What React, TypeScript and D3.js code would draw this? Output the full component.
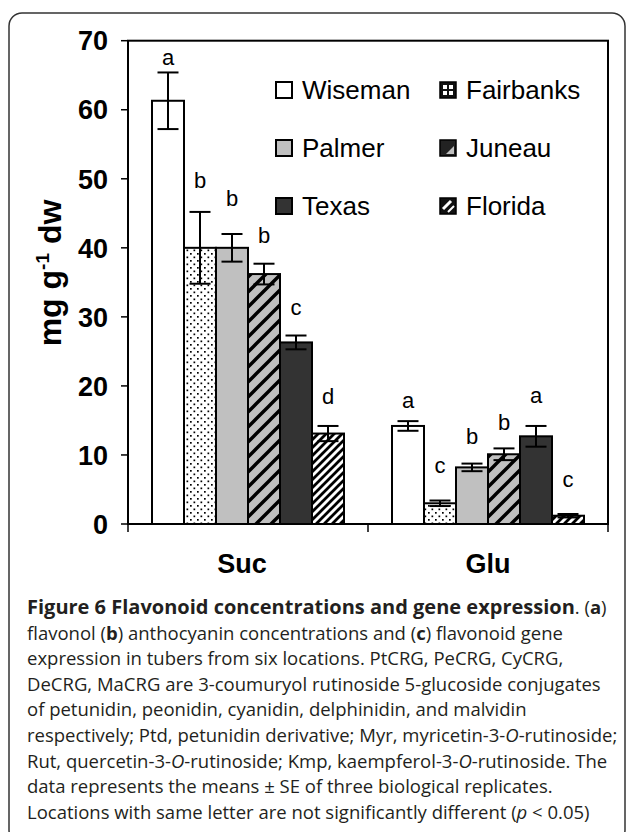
import React from 'react';
import * as d3 from 'd3';

const groups = ['Suc', 'Glu'];
const groupLabelShift = [-6, 0];
const locations = ['Wiseman', 'Fairbanks', 'Palmer', 'Juneau', 'Texas', 'Florida'];
const sucMeans = [61.3, 40.0, 40.0, 36.2, 26.3, 13.1];
const sucSE = [4.1, 5.2, 2.0, 1.5, 1.0, 1.1];
const gluMeans = [14.2, 3.0, 8.2, 10.1, 12.7, 1.2];
const gluSE = [0.7, 0.4, 0.55, 0.85, 1.5, 0.25];
const sucLetters = ['a', 'b', 'b', 'b', 'c', 'd'];
const gluLetters = ['a', 'c', 'b', 'b', 'a', 'c'];
const sucLetterPos = [66.5, 48.6, 46.1, 40.7, 30.3, 17.4];
const gluLetterPos = [16.8, 7.4, 11.6, 13.6, 17.5, 5.4];
const yTicks = [0, 10, 20, 30, 40, 50, 60, 70];

const fills: Record<string, string> = {
  Wiseman: '#ffffff',
  Fairbanks: 'url(#dots)',
  Palmer: '#c0c0c0',
  Juneau: 'url(#juneau)',
  Texas: '#333333',
  Florida: 'url(#florida)',
};

type Row = { group: string; loc: string; mean: number; se: number; letter: string; lpos: number };
const rows: Row[] = [];
groups.forEach((g, gi) => {
  const means = gi === 0 ? sucMeans : gluMeans;
  const ses = gi === 0 ? sucSE : gluSE;
  const lets = gi === 0 ? sucLetters : gluLetters;
  const lp = gi === 0 ? sucLetterPos : gluLetterPos;
  locations.forEach((loc, i) => rows.push({ group: g, loc, mean: means[i], se: ses[i], letter: lets[i], lpos: lp[i] }));
});

const captionFont = "'Open Sans', 'Noto Sans', sans-serif";
const chartFont = "'Liberation Sans', Arial, sans-serif";

export default function App() {
  const x0 = d3.scaleBand<string>().domain(groups).range([128, 608]).paddingInner(0).paddingOuter(0);
  const x1 = d3.scaleBand<string>().domain(locations).range([0, x0.bandwidth()]).paddingInner(0).paddingOuter(0.75);
  const y = d3.scaleLinear().domain([0, 70]).range([524, 40.7]);
  const capW = 21;

  const legendCols = [276, 440];
  const legendRows = [90, 148, 206];
  const sw = 16;

  const capLines: React.ReactNode[] = [
    <>
      <tspan fontWeight="bold" fontSize={20}>Figure 6 Flavonoid concentrations and gene expression</tspan>. (<tspan fontWeight="bold">a</tspan>)
    </>,
    <>
      flavonol (<tspan fontWeight="bold">b</tspan>) anthocyanin concentrations and (<tspan fontWeight="bold">c</tspan>) flavonoid gene
    </>,
    <>expression in tubers from six locations. PtCRG, PeCRG, CyCRG,</>,
    <>DeCRG, MaCRG are 3-coumuryol rutinoside 5-glucoside conjugates</>,
    <>of petunidin, peonidin, cyanidin, delphinidin, and malvidin</>,
    <>
      respectively; Ptd, petunidin derivative; Myr, myricetin-3-<tspan fontStyle="italic">O</tspan>-rutinoside;
    </>,
    <>
      Rut, quercetin-3-<tspan fontStyle="italic">O</tspan>-rutinoside; Kmp, kaempferol-3-<tspan fontStyle="italic">O</tspan>-rutinoside. The
    </>,
    <>data represents the means ± SE of three biological replicates.</>,
    <>
      Locations with same letter are not significantly different (<tspan fontStyle="italic">p</tspan> &lt; 0.05)
    </>,
  ];

  return (
    <svg width={629} height={832} style={{ position: 'absolute', left: 0, top: 0, background: '#fff' }}>
      <defs>
        <pattern id="dots" width={7} height={7} patternUnits="userSpaceOnUse">
          <rect width={7} height={7} fill="#fff" />
          <rect x={1} y={1} width={1.7} height={1.7} fill="#000" />
          <rect x={4.5} y={4.5} width={1.7} height={1.7} fill="#000" />
        </pattern>
        <pattern id="juneau" width={15} height={15} patternUnits="userSpaceOnUse">
          <rect width={15} height={15} fill="#c0c0c0" />
          <path d="M-4,4 L4,-4 M0,15 L15,0 M11,19 L19,11" stroke="#000" strokeWidth={3.4} />
        </pattern>
        <pattern id="florida" width={8} height={8} patternUnits="userSpaceOnUse">
          <rect width={8} height={8} fill="#fff" />
          <path d="M-2,2 L2,-2 M0,8 L8,0 M6,10 L10,6" stroke="#000" strokeWidth={2.8} />
        </pattern>
      </defs>

      {/* frame */}
      <rect x={9} y={13} width={616} height={830} rx={13} fill="none" stroke="#333" strokeWidth={1.5} />

      {/* bars */}
      {rows.map((r, i) => {
        const bx = (x0(r.group) as number) + (x1(r.loc) as number);
        const bw = x1.bandwidth();
        const cx = bx + bw / 2;
        return (
          <g key={i}>
            <rect x={bx} y={y(r.mean)} width={bw} height={y(0) - y(r.mean)} fill={fills[r.loc]} stroke="#000" strokeWidth={2} />
            <line x1={cx} x2={cx} y1={y(r.mean + r.se)} y2={y(r.mean - r.se)} stroke="#000" strokeWidth={2} />
            <line x1={cx - capW / 2} x2={cx + capW / 2} y1={y(r.mean + r.se)} y2={y(r.mean + r.se)} stroke="#000" strokeWidth={2} />
            <line x1={cx - capW / 2} x2={cx + capW / 2} y1={y(r.mean - r.se)} y2={y(r.mean - r.se)} stroke="#000" strokeWidth={2} />
            <text x={cx} y={y(r.lpos)} textAnchor="middle" fontFamily={chartFont} fontSize={22} fill="#000">
              {r.letter}
            </text>
          </g>
        );
      })}

      {/* plot box */}
      <rect x={128} y={y(70)} width={480} height={y(0) - y(70)} fill="none" stroke="#000" strokeWidth={2} />

      {/* y ticks */}
      {yTicks.map((t) => (
        <g key={t}>
          <line x1={121} x2={128} y1={y(t)} y2={y(t)} stroke="#000" strokeWidth={1.5} />
          <text x={108} y={y(t)} dy="0.36em" textAnchor="end" fontFamily={chartFont} fontWeight="bold" fontSize={27} fill="#000">
            {t}
          </text>
        </g>
      ))}

      {/* x ticks */}
      {[128, 368, 608].map((xx) => (
        <line key={xx} x1={xx} x2={xx} y1={524} y2={532} stroke="#000" strokeWidth={1.5} />
      ))}
      {groups.map((g, gi) => (
        <text key={g} x={(x0(g) as number) + x0.bandwidth() / 2 + groupLabelShift[gi]} y={573} textAnchor="middle" fontFamily={chartFont} fontWeight="bold" fontSize={27} fill="#000">
          {g}
        </text>
      ))}

      {/* y label */}
      <text transform="translate(61,273) rotate(-90)" textAnchor="middle" fontFamily={chartFont} fontWeight="bold" fontSize={32} fill="#000">
        mg g<tspan dy={-12} fontSize={19}>-1</tspan>
        <tspan dy={12}> dw</tspan>
      </text>

      {/* legend */}
      {locations.map((loc, i) => {
        const lx = legendCols[i % 2];
        const ly = legendRows[Math.floor(i / 2)];
        const sx = lx;
        const sy = ly - sw / 2;
        let swatch: React.ReactNode;
        if (loc === 'Fairbanks') {
          swatch = (
            <g>
              <rect x={sx} y={sy} width={sw} height={sw} fill="#111" stroke="#000" strokeWidth={1.5} />
              <rect x={sx + 3} y={sy + 3} width={4} height={4} fill="#fff" />
              <rect x={sx + 9} y={sy + 3} width={4} height={4} fill="#fff" />
              <rect x={sx + 3} y={sy + 9} width={4} height={4} fill="#fff" />
              <rect x={sx + 9} y={sy + 9} width={4} height={4} fill="#fff" />
            </g>
          );
        } else if (loc === 'Juneau') {
          swatch = (
            <g>
              <rect x={sx} y={sy} width={sw} height={sw} fill="#222" stroke="#000" strokeWidth={1.5} />
              <path d={`M${sx + sw - 2},${sy + 6} L${sx + sw - 2},${sy + sw - 2} L${sx + 6},${sy + sw - 2} Z`} fill="#c0c0c0" />
            </g>
          );
        } else if (loc === 'Florida') {
          swatch = (
            <g>
              <rect x={sx} y={sy} width={sw} height={sw} fill="#111" stroke="#000" strokeWidth={1.5} />
              <path d={`M${sx + 3},${sy + sw - 5} L${sx + sw - 5},${sy + 3}`} stroke="#fff" strokeWidth={3} />
              <path d={`M${sx + 8},${sy + sw - 2} L${sx + sw - 2},${sy + 8}`} stroke="#fff" strokeWidth={2} />
            </g>
          );
        } else {
          swatch = <rect x={sx} y={sy} width={sw} height={sw} fill={fills[loc]} stroke="#000" strokeWidth={2} />;
        }
        return (
          <g key={loc}>
            {swatch}
            <text x={lx + sw + 10} y={ly} dy="0.36em" fontFamily={chartFont} fontSize={26} fill="#000">
              {loc}
            </text>
          </g>
        );
      })}

      {/* caption */}
      <g fontFamily={captionFont} fontSize={18.5} fill="#231f20">
        {capLines.map((c, i) => (
          <text key={i} x={27} y={614 + i * 25.6}>
            {c}
          </text>
        ))}
      </g>
    </svg>
  );
}
